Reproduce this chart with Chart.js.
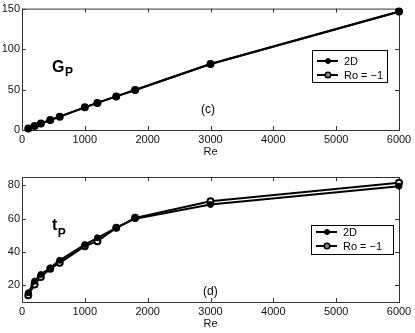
<!DOCTYPE html>
<html>
<head>
<meta charset="utf-8">
<script src="https://cdn.jsdelivr.net/npm/chart.js@4.4.0/dist/chart.umd.min.js"></script>
<style>
html, body { margin: 0; padding: 0; background: #fff; }
#wrap { position: relative; width: 415px; height: 333px; }
canvas { position: absolute; left: 0; }
</style>
</head>
<body>
<div id="wrap">
  <canvas id="gp" width="415" height="165" style="top:0"></canvas>
  <canvas id="tp" width="415" height="168" style="top:165px"></canvas>
</div>
<script>
// Reynolds numbers (shared by both panels)
const re = [100, 200, 300, 450, 600, 1000, 1200, 1500, 1800, 3000, 6000];

// panel (c): G_P
const gp2D = [2, 5, 8, 12, 16.5, 28, 33.5, 41.5, 49.5, 81.5, 146];
const gpRo = [2, 5, 8, 12.5, 16.5, 28, 33.5, 41.5, 49.5, 81.5, 146.5];

// panel (d): t_P
const tp2D = [15.5, 22.5, 26.5, 30.5, 35, 44.5, 48.5, 54.5, 60, 68.5, 79.5];
const tpRo = [14, 20.5, 25, 30, 33.5, 43.5, 46.5, 54.5, 60.5, 70.5, 81.5];

const seriesNames = ['2D', 'Ro = \u22121'];

const xTicks = [0, 1000, 2000, 3000, 4000, 5000, 6000];
const xTickLabels = ['0', '1000', '2000', '3000', '4000', '5000', '6000'];
const yTicksGp = [0, 50, 100, 150];
const yTicksTp = [20, 40, 60, 80];

const FONT = '"Liberation Sans", Arial, sans-serif';

// box, inward ticks, labels and legend drawn like the matlab figure
const decoPlugin = {
    id: 'deco',
    beforeDatasetsDraw(chart) {
        const { ctx, chartArea: a, scales: { x, y } } = chart;
        ctx.save();
        ctx.strokeStyle = '#333';
        ctx.lineWidth = 1;
        ctx.strokeRect(a.left + 0.5, a.top + 0.5, a.right - a.left, a.bottom - a.top);
        ctx.beginPath();
        x.ticks.forEach(t => {
            const px = Math.round(x.getPixelForValue(t.value)) + 0.5;
            ctx.moveTo(px, a.bottom); ctx.lineTo(px, a.bottom - 4);
            ctx.moveTo(px, a.top); ctx.lineTo(px, a.top + 4);
        });
        y.ticks.forEach(t => {
            const py = Math.round(y.getPixelForValue(t.value)) + 0.5;
            ctx.moveTo(a.left, py); ctx.lineTo(a.left + 4, py);
            ctx.moveTo(a.right, py); ctx.lineTo(a.right - 4, py);
        });
        ctx.stroke();
        ctx.restore();
    },
    afterDatasetsDraw(chart, args, o) {
        const ctx = chart.ctx;
        ctx.save();
        ctx.fillStyle = '#000';
        ctx.textBaseline = 'alphabetic';
        ctx.textAlign = 'left';
        // quantity label with subscript
        ctx.font = 'bold 16px ' + FONT;
        ctx.fillText(o.name, o.nameX, o.nameY);
        const w = ctx.measureText(o.name).width;
        ctx.font = 'bold 12px ' + FONT;
        ctx.fillText(o.sub, o.nameX + w + 0.5, o.subY);
        // panel letter
        ctx.font = '12px ' + FONT;
        ctx.textBaseline = 'middle';
        ctx.fillText(o.panel, o.panelX, o.panelY);
        // legend
        const L = o.legend;
        ctx.fillStyle = '#fff';
        ctx.fillRect(L.x, L.y, L.w, L.h);
        ctx.strokeStyle = '#000';
        ctx.lineWidth = 1;
        ctx.strokeRect(L.x + 0.5, L.y + 0.5, L.w, L.h);
        ctx.font = '11px ' + FONT;
        seriesNames.forEach((name, i) => {
            const ey = L.rows[i];
            ctx.strokeStyle = '#000';
            ctx.lineWidth = 2;
            ctx.beginPath();
            ctx.moveTo(L.x + 5, ey); ctx.lineTo(L.x + 26, ey);
            ctx.stroke();
            ctx.beginPath();
            ctx.arc(L.x + 16, ey, i === 0 ? 2.5 : 2.8, 0, Math.PI * 2);
            ctx.fillStyle = i === 0 ? '#000' : '#888';
            ctx.fill();
            ctx.lineWidth = i === 0 ? 1 : 1.5;
            ctx.stroke();
            ctx.fillStyle = '#000';
            ctx.fillText(name, L.x + 32, ey + 0.5);
        });
        ctx.restore();
    }
};

function series(label, values, open) {
    return {
        label: label,
        data: re.map((v, i) => ({ x: v, y: values[i] })),
        borderColor: '#000',
        borderWidth: 2,
        pointRadius: 3,
        pointBackgroundColor: open ? '#fff' : '#000',
        pointBorderColor: '#000',
        pointBorderWidth: open ? 2 : 1,
        clip: false,
        tension: 0
    };
}

function makeChart(id, datasets, yMin, yMax, yTicks, cfg) {
    const tickFont = { family: FONT, size: 11 };
    return new Chart(document.getElementById(id), {
        type: 'line',
        data: { datasets: datasets },
        options: {
            responsive: false,
            animation: false,
            devicePixelRatio: 1,
            layout: { padding: { top: cfg.top, right: 16, left: 0, bottom: 0 } },
            plugins: { legend: { display: false }, tooltip: { enabled: false }, deco: cfg.deco },
            scales: {
                x: {
                    type: 'linear', min: 0, max: 6000,
                    afterBuildTicks: s => { s.ticks = xTicks.map(v => ({ value: v })); },
                    afterFit: s => { s.height = cfg.xh; },
                    grid: { display: false, drawTicks: false },
                    border: { display: false },
                    ticks: { font: tickFont, color: '#111', padding: 3, maxRotation: 0, autoSkip: false,
                        callback: (v, i) => xTickLabels[i] },
                    title: { display: true, text: 'Re', font: tickFont, color: '#111',
                        padding: { top: 0, bottom: cfg.titlePad } }
                },
                y: {
                    type: 'linear', min: yMin, max: yMax,
                    afterBuildTicks: s => { s.ticks = yTicks.map(v => ({ value: v })); },
                    afterFit: s => { s.width = 22; },
                    grid: { display: false, drawTicks: false },
                    border: { display: false },
                    ticks: { font: tickFont, color: '#111', padding: 2, autoSkip: false,
                        callback: v => String(v) }
                }
            }
        },
        plugins: [decoPlugin]
    });
}

makeChart('gp', [series(seriesNames[0], gp2D, false), series(seriesNames[1], gpRo, true)],
    0, 150, yTicksGp, {
        top: 7, xh: 35, titlePad: 6,
        deco: { name: 'G', sub: 'P', nameX: 52, nameY: 72, subY: 76, panel: '(c)', panelX: 201, panelY: 110,
            legend: { x: 312, y: 50, w: 75, h: 32, rows: [61, 75] } }
    });

makeChart('tp', [series(seriesNames[0], tp2D, false), series(seriesNames[1], tpRo, true)],
    10, 85, yTicksTp, {
        top: 12, xh: 31, titlePad: 2,
        deco: { name: 't', sub: 'P', nameX: 52, nameY: 65, subY: 72, panel: '(d)', panelX: 203, panelY: 127,
            legend: { x: 311, y: 60, w: 82, h: 29, rows: [67, 81] } }
    });
</script>
</body>
</html>
